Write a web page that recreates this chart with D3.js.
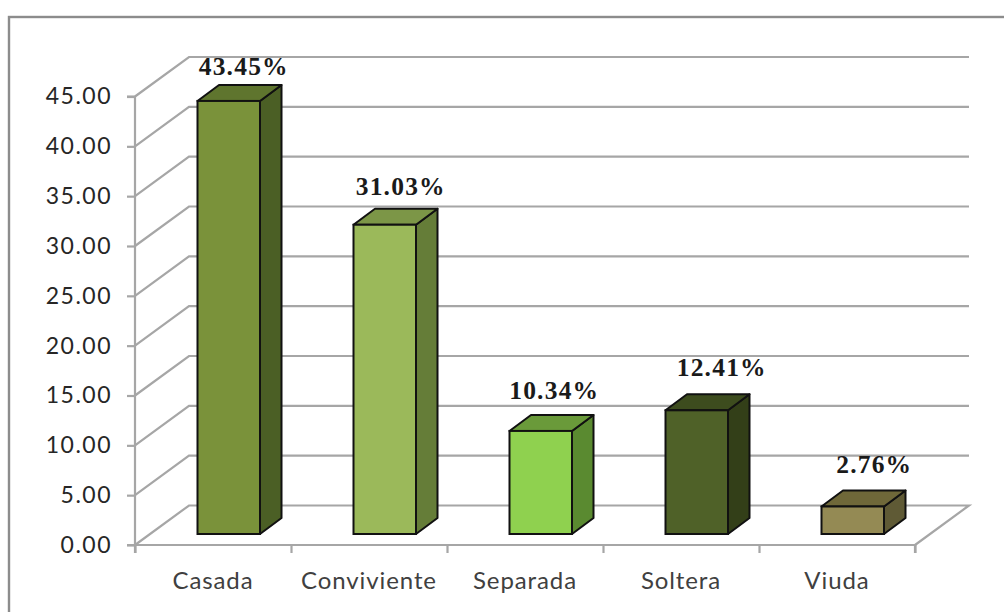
<!DOCTYPE html>
<html><head><meta charset="utf-8">
<script src="https://cdn.jsdelivr.net/npm/d3@7"></script>
<style>html,body{margin:0;padding:0;background:#fff}svg{display:block}</style>
</head><body><svg id="c" width="1004" height="612"></svg>
<script>
const categories = ["Casada","Conviviente","Separada","Soltera","Viuda"];
const values = [43.45,31.03,10.34,12.41,2.76];
const labels = ["43.45%","31.03%","10.34%","12.41%","2.76%"];
const frontColors = ["#7a923a","#9bb95a","#8fd14f","#4f6128","#948a54"];
const topColors = ["#5f752e","#7c9647","#6a9a3a","#3d4c1e","#6f6839"];
const sideColors = ["#4b5f25","#657d38","#5a8a30","#333f18","#5f5a35"];
const yTicks = d3.range(0,46,5);
const labelNudgeX = [15,16,13.5,25,21.5];
const labelNudgeY = [-26,-30,-32,-34,-33];

const svg = d3.select("#c");
const fx = 135, fw = 780, fy0 = 545, unit = 448.5/45;
const depth = {x:54, y:-39.5};
const barDepth = {x:21.5, y:-16};
const x = d3.scaleBand().domain(categories).range([fx,fx+fw]);
const y = d3.scaleLinear().domain([0,45]).range([fy0,fy0-45*unit]);

svg.append("rect").attr("x",9).attr("y",17).attr("width",1040).attr("height",640)
  .attr("fill","#fff").attr("stroke","#8c8c8c").attr("stroke-width",2.4);

const grid = "#a6a6a6";
const g = svg.append("g");
yTicks.forEach(t=>{
  if(t>0) g.append("path").attr("d",`M${fx},${y(t)}L${fx+depth.x},${y(t)+depth.y}H${fx+fw+depth.x}`)
    .attr("fill","none").attr("stroke",grid).attr("stroke-width",2.2);
  else g.append("path").attr("d",`M${fx},${y(0)}L${fx+depth.x},${y(0)+depth.y}H${fx+fw+depth.x}L${fx+fw},${y(0)}`)
    .attr("fill","none").attr("stroke",grid).attr("stroke-width",2.2);
});

const yAxis = d3.axisLeft(y).tickValues(yTicks).tickFormat(d3.format(".2f")).tickSize(8).tickPadding(15);
const ya = svg.append("g").attr("transform",`translate(${fx},0)`).call(yAxis);
ya.selectAll("text").attr("font-family","Lato").attr("font-size",23).attr("letter-spacing",1.5).attr("fill","#262626");

const xTicks = d3.scaleLinear().domain([0,5]).range([fx,fx+fw]);
const xa = svg.append("g").attr("transform",`translate(0,${fy0})`)
  .call(d3.axisBottom(xTicks).ticks(5).tickFormat("").tickSize(8));
[ya,xa].forEach(a=>{a.selectAll("path,line").attr("stroke",grid).attr("stroke-width",2.2);});
ya.select(".domain").attr("d",`M${-8},${y(45)}H0V${y(0)}H-8`);
xa.select(".domain").attr("d",`M${fx},8V0H${fx+fw}V8`);

const offX = 62.5, offY = 11, bw = 62.5;
const bars = svg.selectAll("g.bar").data(categories).join("g").attr("class","bar");
bars.each(function(c,i){
  const s = d3.select(this);
  const x0 = x(c)+offX, x1 = x0+bw, yb = y(0)-offY, yt = y(values[i])-offY;
  const dx = barDepth.x, dy = barDepth.y;
  const st = {stroke:"#111",sw:2};
  s.append("path").attr("d",`M${x1},${yb}L${x1+dx},${yb+dy}V${yt+dy}L${x1},${yt}Z`).attr("fill",sideColors[i]).attr("stroke",st.stroke).attr("stroke-width",st.sw).attr("stroke-linejoin","round");
  s.append("path").attr("d",`M${x0},${yt}L${x0+dx},${yt+dy}H${x1+dx}L${x1},${yt}Z`).attr("fill",topColors[i]).attr("stroke",st.stroke).attr("stroke-width",st.sw).attr("stroke-linejoin","round");
  s.append("rect").attr("x",x0).attr("y",yt).attr("width",bw).attr("height",yb-yt).attr("fill",frontColors[i]).attr("stroke",st.stroke).attr("stroke-width",st.sw);
  s.append("text").attr("x",x0+bw/2+labelNudgeX[i]).attr("y",yt+labelNudgeY[i]).attr("text-anchor","middle")
    .attr("font-family","'Liberation Serif'").attr("font-weight","bold").attr("font-size",25.5).attr("letter-spacing",1.2).attr("fill","#1a1a1a").text(labels[i]);
  s.append("text").attr("x",x(c)+x.bandwidth()/2).attr("y",589).attr("text-anchor","middle")
    .attr("font-family","Lato").attr("font-size",24).attr("letter-spacing",0.9).attr("fill","#404040").text(c);
});
</script></body></html>
